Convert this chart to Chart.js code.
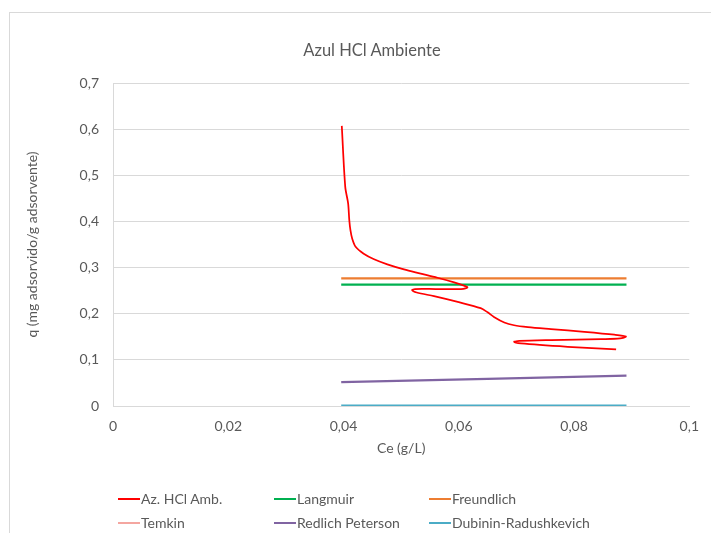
<!DOCTYPE html>
<html>
<head>
<meta charset="utf-8">
<script src="https://cdn.jsdelivr.net/npm/chart.js@4/dist/chart.umd.min.js"></script>
<style>
  html, body { margin: 0; padding: 0; background: #fff; }
  #wrap { position: relative; width: 711px; height: 533px; overflow: hidden; }
  #frame { position: absolute; left: 9px; top: 12px; width: 740px; height: 560px; border: 1px solid #d9d9d9; box-sizing: border-box; }
  canvas { position: absolute; left: 0; top: 0; }
  #title { position: absolute; left: 172px; width: 400px; top: 40px; height: 20px; line-height: 20px; text-align: center; font-family: Lato, "Open Sans", sans-serif; font-size: 16.5px; color: #595959; white-space: nowrap; }
  .lg { position: absolute; display: flex; align-items: center; font-family: Lato, "Open Sans", sans-serif; font-size: 14px; color: #595959; white-space: nowrap; }
  .lg span.sw { display: inline-block; width: 22px; height: 2px; margin-right: 1px; }
</style>
</head>
<body>
<div id="wrap">
  <div id="frame"></div>
  <canvas id="c" width="711" height="533"></canvas>
  <div id="title"></div>
  <div id="legend"></div>
</div>
<script>
// ---- data ----
const chartTitle = "Azul HCl Ambiente";
const xTitle = "Ce (g/L)";
const yTitle = "q (mg adsorvido/g adsorvente)";
const xTickLabels = ["0", "0,02", "0,04", "0,06", "0,08", "0,1"];
const yTickLabels = ["0", "0,1", "0,2", "0,3", "0,4", "0,5", "0,6", "0,7"];
const seriesNames = ["Az. HCl Amb.", "Langmuir", "Freundlich", "Temkin", "Redlich Peterson", "Dubinin-Radushkevich"];

const expX = [0.0397, 0.0403, 0.0408, 0.0410, 0.0412, 0.0415, 0.0421, 0.0435, 0.0453, 0.0476,
              0.0505, 0.0534, 0.0563, 0.0592, 0.0609, 0.0615, 0.0604, 0.0560, 0.0524, 0.0519,
              0.0527, 0.0557, 0.0600, 0.0638, 0.0650, 0.0661, 0.0679, 0.0696, 0.0720, 0.0760,
              0.0818, 0.0870, 0.0890, 0.0880, 0.0847, 0.0760, 0.0705, 0.0696, 0.0708, 0.0789, 0.0873];
const expY = [0.607, 0.475, 0.439, 0.403, 0.381, 0.363, 0.345, 0.330, 0.318, 0.307,
              0.296, 0.287, 0.278, 0.268, 0.261, 0.257, 0.2535, 0.2535, 0.2535, 0.251,
              0.246, 0.238, 0.225, 0.212, 0.203, 0.193, 0.181, 0.175, 0.171, 0.1667,
              0.1608, 0.1545, 0.1505, 0.1465, 0.1450, 0.1429, 0.1410, 0.1392, 0.1357, 0.1284, 0.1227];

const modelX = [0.0396, 0.0650, 0.0891];
const langmuirY = [0.263, 0.263, 0.263];
const freundlichY = [0.2765, 0.2765, 0.2765];
const temkinY = [];
const redlichY = [0.052, 0.059, 0.066];
const dubininY = [0.0008, 0.0008, 0.0008];

const colors = ["#ff0000", "#00b050", "#ed7d31", "#f4a6a0", "#8064a2", "#4bacc6"];

function pts(xs, ys) { return ys.map((y, i) => ({ x: xs[i], y: y })); }

const datasets = [
  { label: seriesNames[0], data: pts(expX, expY), borderColor: colors[0], borderWidth: 1.75, tension: 0.3 },
  { label: seriesNames[1], data: pts(modelX, langmuirY), borderColor: colors[1], borderWidth: 2.25 },
  { label: seriesNames[2], data: pts(modelX, freundlichY), borderColor: colors[2], borderWidth: 2.25 },
  { label: seriesNames[3], data: pts(modelX, temkinY), borderColor: colors[3], borderWidth: 2.25 },
  { label: seriesNames[4], data: pts(modelX, redlichY), borderColor: colors[4], borderWidth: 2.25 },
  { label: seriesNames[5], data: pts(modelX, dubininY), borderColor: colors[5], borderWidth: 2.25 }
].map(d => Object.assign({ showLine: true, pointRadius: 0, pointHoverRadius: 0, fill: false, backgroundColor: d.borderColor, order: 0 }, d));

datasets[0].order = -1;

const FONT = "Lato, 'Open Sans', sans-serif";
const grey = "#595959";

document.getElementById("title").textContent = chartTitle;

new Chart(document.getElementById("c"), {
  type: "scatter",
  data: { datasets: datasets },
  options: {
    responsive: false,
    animation: false,
    layout: { padding: { left: 20, right: 21, top: 83, bottom: 72 } },
    plugins: {
      legend: { display: false },
      tooltip: { enabled: false },
      title: { display: false }
    },
    scales: {
      x: {
        type: "linear", min: 0, max: 0.1,
        ticks: { stepSize: 0.02, color: grey, font: { family: FONT, size: 14 }, padding: 12, maxRotation: 0,
                 callback: (v, i) => xTickLabels[i] },
        grid: { display: false, drawTicks: false },
        border: { display: true, color: "#d9d9d9" },
        title: { display: true, text: xTitle, color: grey, font: { family: FONT, size: 14 }, padding: 4 },
        afterFit: s => { s.height = 55; }
      },
      y: {
        type: "linear", min: 0, max: 0.7,
        ticks: { stepSize: 0.1, color: grey, font: { family: FONT, size: 14 }, padding: 14,
                 callback: (v, i) => yTickLabels[i] },
        grid: { color: "#d9d9d9", drawTicks: false },
        border: { display: true, color: "#d9d9d9" },
        title: { display: true, text: yTitle, color: grey, font: { family: FONT, size: 14 }, padding: 4 },
        afterFit: s => { s.width = 93; }
      }
    }
  }
});

// legend (HTML)
const legCols = [118, 274, 429];
const legRows = [490, 514];
const lg = document.getElementById("legend");
seriesNames.forEach((n, i) => {
  const d = document.createElement("div");
  d.className = "lg";
  d.style.left = legCols[i % 3] + "px";
  d.style.top = legRows[Math.floor(i / 3)] + "px";
  d.style.height = "17px";
  d.innerHTML = '<span class="sw" style="background:' + colors[i] + '"></span>' + n;
  lg.appendChild(d);
});
</script>
</body>
</html>
